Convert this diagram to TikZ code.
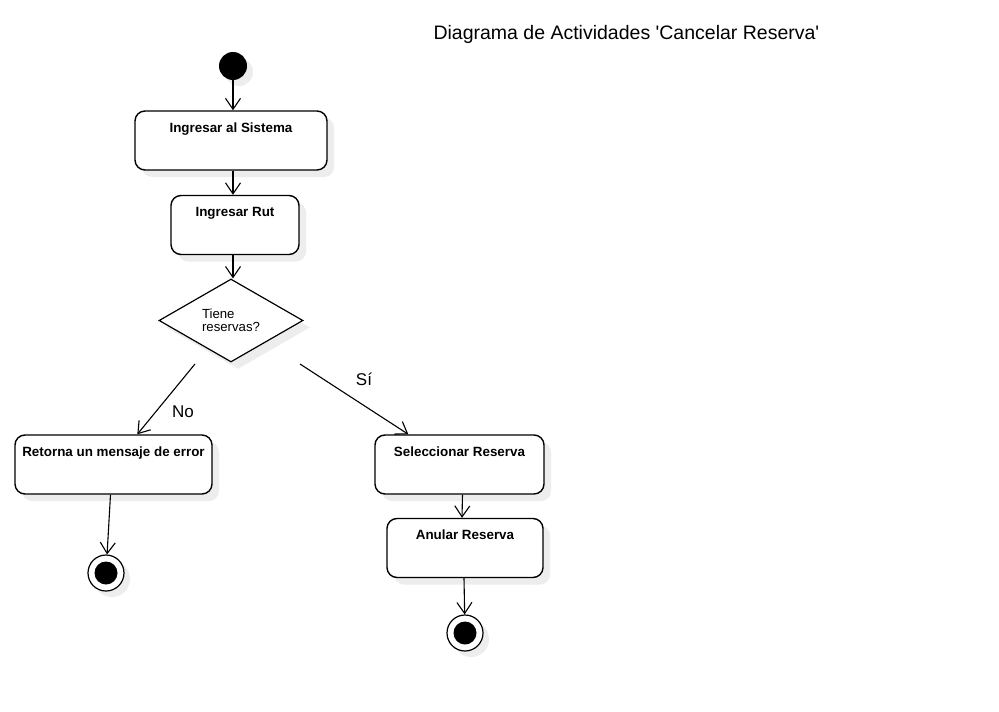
\documentclass[tikz,border=0pt]{standalone}
\usepackage{fontspec}
\setmainfont{Liberation Sans}
\usetikzlibrary{arrows.meta,shapes.geometric,shadows,calc}
\begin{document}
\begin{tikzpicture}[x=1pt,y=-1pt,
  >={Straight Barb[length=11pt,width=15pt]},
  conn/.style={->,line width=1.1pt},
  actbox/.style={draw,rounded corners=10pt,line width=1.4pt,fill=white,
    font=\bfseries\fontsize{13.4}{15}\selectfont,inner sep=0pt,
    text height=21pt,text depth=38pt,
    drop shadow={shadow xshift=7pt,shadow yshift=-7pt,fill=black!7,opacity=1}},
  decision/.style={diamond,draw,line width=1.2pt,fill=white,inner sep=0pt,
    minimum width=144pt,minimum height=83pt,
    font=\fontsize{13.2}{13.5}\selectfont,align=left,
    drop shadow={shadow xshift=7pt,shadow yshift=-7pt,fill=black!7,opacity=1}},
  initnode/.style={circle,fill=black,minimum size=28pt,inner sep=0pt,
    drop shadow={shadow xshift=6pt,shadow yshift=-6pt,fill=black!7,opacity=1}},
  finalnode/.style={circle,draw,line width=1.2pt,fill=white,minimum size=36pt,inner sep=0pt,
    drop shadow={shadow xshift=6pt,shadow yshift=-6pt,fill=black!7,opacity=1}},
  guard/.style={font=\fontsize{17}{19}\selectfont,inner sep=0pt}
]
\useasboundingbox[fill=white] (0,0) rectangle (999,712);

\node[font=\fontsize{19.5}{21}\selectfont,anchor=west] (title) at (430,34) {Diagrama de Actividades \textquotesingle Cancelar Reserva\textquotesingle};

\node[initnode] (start) at (233,66) {};
\node[actbox,minimum width=192pt] (ing) at (231,140.5) {Ingresar al Sistema};
\node[actbox,minimum width=128pt] (rut) at (235,225) {Ingresar Rut};
\node[decision] (dec) at (231,320.5) {Tiene\\reservas?};
\node[actbox,minimum width=197pt] (err) at (113.5,464.5) {Retorna un mensaje de error};
\node[actbox,minimum width=169pt] (sel) at (459.5,464.5) {Seleccionar Reserva};
\node[actbox,minimum width=156pt] (anu) at (465,548) {Anular Reserva};
\node[finalnode] (fin1) at (106,573) {};
\node[finalnode] (fin2) at (465,633) {};
\fill (fin1.center) circle[radius=11.5pt];
\fill (fin2.center) circle[radius=11.5pt];

\coordinate (noStart) at (195,364);
\coordinate (siStart) at (300,364);

\draw[conn] (start) -- (start |- ing.north);
\draw[conn] (ing.south -| 233,0) -- (rut.north -| 233,0);
\draw[conn] (rut.south -| 233,0) -- (dec.north -| 233,0);
\draw[conn] (noStart) -- ($(err.north west)+(123,0)$);
\draw[conn] (siStart) -- ($(sel.north west)+(34,0)$);
\draw[conn] ($(err.south)+(-3,0)$) -- (fin1);
\draw[conn] ($(sel.south)+(3,0)$) -- ($(anu.north)+(-3,0)$);
\draw[conn] ($(anu.south)+(-1,0)$) -- (fin2);

\node[guard] (lblNo) at (183,412) {No};
\node[guard] (lblSi) at (364,379) {Sí};
\end{tikzpicture}
\end{document}
